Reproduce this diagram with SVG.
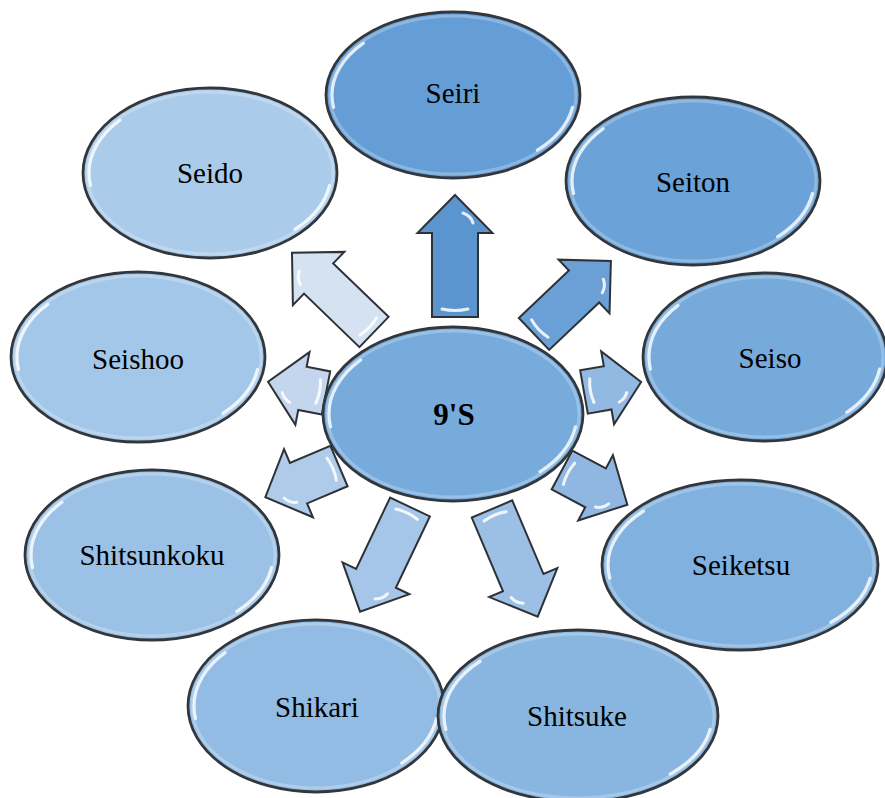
<svg xmlns="http://www.w3.org/2000/svg" width="885" height="798" viewBox="0 0 885 798">
  <defs>
    <style>
      .shape { stroke: #33373c; stroke-width: 2.8; }
      .rim { fill: none; stroke: #ffffff; stroke-opacity: 0.25; stroke-width: 3; }
      .gloss { fill: none; stroke: #ffffff; stroke-opacity: 0.8; stroke-width: 3.2; stroke-linecap: round;
               stroke-dasharray: 9 37 12 42; stroke-dashoffset: -2; }
      .label { font-family: "Liberation Serif", "Times New Roman", serif; font-size: 29px; fill: #000; text-anchor: middle; }
      .hub { font-weight: bold; font-size: 31px; }
      .arrow { stroke: #2e3236; stroke-width: 2; stroke-linejoin: miter; }
      .shine { fill: none; stroke: #ffffff; stroke-opacity: 0.85; stroke-width: 3; stroke-linecap: round; }
    </style>
  </defs>

  <rect width="885" height="798" fill="#ffffff"/>

  <!-- outward arrows from the hub; each drawn with its tail at the origin pointing along +x -->
  <g id="connectors">
    <g transform="translate(455,317) rotate(-90)">
      <path class="arrow" fill="#5b95cf" d="M0,-23 H84 V-37.5 L122,0 L84,37.5 V23 H0 Z"/>
      <path class="shine" d="M8,-13 Q5,0 8,13"/>
      <path class="shine" d="M104,8 Q101,16 94,18"/>
    </g>
    <g transform="translate(534,334) rotate(-43.5)">
      <path class="arrow" fill="#6aa0d5" d="M0,-22 H69 V-37 L106,0 L69,37 V22 H0 Z"/>
      <path class="shine" d="M8,-12 Q5,0 8,12"/>
      <path class="shine" d="M88,8 Q85,15 78,17"/>
    </g>
    <g transform="translate(584,392) rotate(-10)">
      <path class="arrow" fill="#92b9e2" d="M0,-22 H24 V-37 L58,0 L24,37 V22 H0 Z"/>
      <path class="shine" d="M8,-12 Q5,0 8,12"/>
      <path class="shine" d="M42,8 Q39,14 33,16"/>
    </g>
    <g transform="translate(562,470) rotate(28)">
      <path class="arrow" fill="#8fb7e1" d="M0,-22 H38 V-37 L74,0 L38,37 V22 H0 Z"/>
      <path class="shine" d="M8,-12 Q5,0 8,12"/>
      <path class="shine" d="M57,8 Q54,15 47,17"/>
    </g>
    <g transform="translate(492,509) rotate(67)">
      <path class="arrow" fill="#9cc0e5" d="M0,-22 H80 V-37 L117,0 L80,37 V22 H0 Z"/>
      <path class="shine" d="M8,-12 Q5,0 8,12"/>
      <path class="shine" d="M99,8 Q96,15 89,17"/>
    </g>
    <g transform="translate(410,507) rotate(115.5)">
      <path class="arrow" fill="#a5c6e8" d="M0,-22 H79 V-37 L116,0 L79,37 V22 H0 Z"/>
      <path class="shine" d="M8,-12 Q5,0 8,12"/>
      <path class="shine" d="M98,-8 Q95,-15 88,-17"/>
    </g>
    <g transform="translate(339,466) rotate(157)">
      <path class="arrow" fill="#afcbea" d="M0,-22 H44 V-37 L80,0 L44,37 V22 H0 Z"/>
      <path class="shine" d="M8,-12 Q5,0 8,12"/>
      <path class="shine" d="M63,-8 Q60,-15 53,-17"/>
    </g>
    <g transform="translate(326,393) rotate(191)">
      <path class="arrow" fill="#c3d6ed" d="M0,-22 H24 V-37 L59,0 L24,37 V22 H0 Z"/>
      <path class="shine" d="M8,-12 Q5,0 8,12"/>
      <path class="shine" d="M43,-8 Q40,-14 34,-16"/>
    </g>
    <g transform="translate(374,332) rotate(224)">
      <path class="arrow" fill="#d4e2f1" d="M0,-21 H77 V-37 L114,0 L77,37 V21 H0 Z"/>
      <path class="shine" d="M8,-12 Q5,0 8,12"/>
      <path class="shine" d="M96,-8 Q93,-15 86,-17"/>
    </g>
  </g>

  <!-- hub -->
  <g id="hub">
    <ellipse class="shape" cx="453" cy="414" rx="130" ry="87" fill="#77abdc"/>
    <ellipse class="rim" cx="453" cy="414" rx="126" ry="83"/>
    <ellipse class="gloss" pathLength="100" cx="453" cy="414" rx="124" ry="81"/>
    <text class="label hub" x="454" y="425">9'S</text>
  </g>

  <!-- outer ring of nodes -->
  <g id="seiri">
    <ellipse class="shape" cx="453" cy="95" rx="127" ry="83" fill="#659ed6"/>
    <ellipse class="rim" cx="453" cy="95" rx="123" ry="79"/>
    <ellipse class="gloss" pathLength="100" cx="453" cy="95" rx="121" ry="77"/>
    <text class="label" x="453" y="103">Seiri</text>
  </g>
  <g id="seiton">
    <ellipse class="shape" cx="693" cy="181" rx="127" ry="84" fill="#6ba2d7"/>
    <ellipse class="rim" cx="693" cy="181" rx="123" ry="80"/>
    <ellipse class="gloss" pathLength="100" cx="693" cy="181" rx="121" ry="78"/>
    <text class="label" x="693" y="192">Seiton</text>
  </g>
  <g id="seiso">
    <ellipse class="shape" cx="765" cy="357" rx="122" ry="84" fill="#76aadb"/>
    <ellipse class="rim" cx="765" cy="357" rx="118" ry="80"/>
    <ellipse class="gloss" pathLength="100" cx="765" cy="357" rx="116" ry="78"/>
    <text class="label" x="770" y="368">Seiso</text>
  </g>
  <g id="seiketsu">
    <ellipse class="shape" cx="740" cy="565" rx="138" ry="85" fill="#81b1de"/>
    <ellipse class="rim" cx="740" cy="565" rx="134" ry="81"/>
    <ellipse class="gloss" pathLength="100" cx="740" cy="565" rx="132" ry="79"/>
    <text class="label" x="741" y="575">Seiketsu</text>
  </g>
  <g id="shikari">
    <ellipse class="shape" cx="316" cy="706" rx="128" ry="86" fill="#92bce3"/>
    <ellipse class="rim" cx="316" cy="706" rx="124" ry="82"/>
    <ellipse class="gloss" pathLength="100" cx="316" cy="706" rx="122" ry="80"/>
    <text class="label" x="317" y="717">Shikari</text>
  </g>
  <g id="shitsuke">
    <ellipse class="shape" cx="578" cy="716" rx="140" ry="86" fill="#88b6e0"/>
    <ellipse class="rim" cx="578" cy="716" rx="136" ry="82"/>
    <ellipse class="gloss" pathLength="100" cx="578" cy="716" rx="134" ry="80"/>
    <text class="label" x="577" y="726">Shitsuke</text>
  </g>
  <g id="shitsunkoku">
    <ellipse class="shape" cx="152" cy="555" rx="127" ry="85" fill="#9bc2e6"/>
    <ellipse class="rim" cx="152" cy="555" rx="123" ry="81"/>
    <ellipse class="gloss" pathLength="100" cx="152" cy="555" rx="121" ry="79"/>
    <text class="label" x="152" y="565">Shitsunkoku</text>
  </g>
  <g id="seishoo">
    <ellipse class="shape" cx="138" cy="357" rx="127" ry="85" fill="#a3c7e8"/>
    <ellipse class="rim" cx="138" cy="357" rx="123" ry="81"/>
    <ellipse class="gloss" pathLength="100" cx="138" cy="357" rx="121" ry="79"/>
    <text class="label" x="138" y="369">Seishoo</text>
  </g>
  <g id="seido">
    <ellipse class="shape" cx="210" cy="173" rx="127" ry="85" fill="#aacbea"/>
    <ellipse class="rim" cx="210" cy="173" rx="123" ry="81"/>
    <ellipse class="gloss" pathLength="100" cx="210" cy="173" rx="121" ry="79"/>
    <text class="label" x="210" y="183">Seido</text>
  </g>
</svg>
